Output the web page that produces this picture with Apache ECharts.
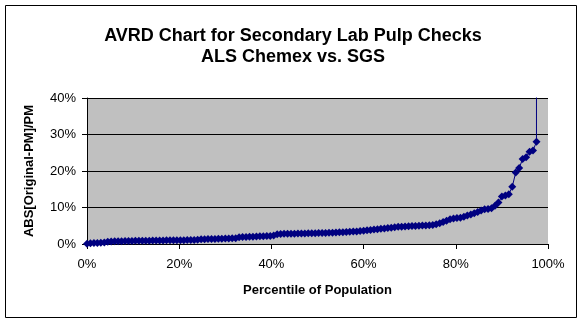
<!DOCTYPE html>
<html>
<head>
<meta charset="utf-8">
<script src="https://cdn.jsdelivr.net/npm/echarts@6/dist/echarts.min.js"></script>
<style>
  html, body { margin: 0; padding: 0; background: #fff; }
  #chart { width: 586px; height: 324px; }
</style>
</head>
<body>
<div id="chart"></div>
<script>
// Ranked pulp-check pairs: percentile of population (%) and ABS[Original-PM]/PM (%)
const percentile = [
  0, 0.75, 1.5, 2.25, 3, 3.75, 4.5, 5.25, 6, 6.75,
  7.5, 8.25, 9, 9.75, 10.5, 11.25, 12, 12.75, 13.5, 14.25,
  15, 15.75, 16.5, 17.25, 18, 18.75, 19.5, 20.25, 21, 21.75,
  22.5, 23.25, 24, 24.75, 25.5, 26.25, 27, 27.75, 28.5, 29.25,
  30, 30.75, 31.5, 32.25, 33, 33.75, 34.5, 35.25, 36, 36.75,
  37.5, 38.25, 39, 39.75, 40.5, 41.25, 42, 42.75, 43.5, 44.25,
  45, 45.75, 46.5, 47.25, 48, 48.75, 49.5, 50.25, 51, 51.75,
  52.5, 53.25, 54, 54.75, 55.5, 56.25, 57, 57.75, 58.5, 59.25,
  60, 60.75, 61.5, 62.25, 63, 63.75, 64.5, 65.25, 66, 66.75,
  67.5, 68.25, 69, 69.75, 70.5, 71.25, 72, 72.75, 73.5, 74.25,
  75, 75.75, 76.5, 77.25, 78, 78.75, 79.5, 80.25, 81, 81.75,
  82.5, 83.25, 84, 84.75, 85.5, 86.25, 87, 87.75, 88.5, 89.25,
  90, 90.75, 91.5, 92.25, 93, 93.75, 94.5, 95.25, 96, 96.75,
  97.5
];
const absRelDiff = [
  0.1, 0.2, 0.25, 0.3, 0.35, 0.4, 0.65, 0.7, 0.72, 0.75,
  0.78, 0.8, 0.82, 0.84, 0.86, 0.88, 0.9, 0.91, 0.92, 0.93,
  0.95, 0.96, 0.98, 1.0, 1.0, 1.02, 1.03, 1.05, 1.06, 1.08,
  1.1, 1.12, 1.15, 1.3, 1.32, 1.35, 1.37, 1.4, 1.42, 1.45,
  1.48, 1.52, 1.56, 1.6, 1.85, 1.9, 1.94, 1.98, 2.02, 2.06,
  2.1, 2.14, 2.18, 2.22, 2.3, 2.7, 2.75, 2.78, 2.8, 2.82,
  2.84, 2.86, 2.88, 2.9, 2.92, 2.94, 2.96, 2.98, 3.0, 3.02,
  3.05, 3.1, 3.15, 3.2, 3.25, 3.3, 3.35, 3.4, 3.45, 3.55,
  3.65, 3.75, 3.85, 3.95, 4.05, 4.15, 4.25, 4.35, 4.45, 4.6,
  4.7, 4.75, 4.8, 4.85, 4.9, 4.95, 5.0, 5.05, 5.1, 5.15,
  5.2, 5.4, 5.7, 6.0, 6.4, 6.8, 7.0, 7.1, 7.2, 7.5,
  7.8, 8.1, 8.4, 8.8, 9.2, 9.5, 9.6, 9.8, 10.5, 11.4,
  13.0, 13.3, 13.6, 15.7, 19.6, 20.8, 23.3, 23.8, 25.3, 25.6,
  28.0
];
// Highest pair runs off the top of the 40% scale
const offScalePoint = [97.5, 55];

const xTicks = [0, 20, 40, 60, 80, 100];
const yTicks = [0, 10, 20, 30, 40];

const titleLines = ['AVRD Chart for Secondary Lab Pulp Checks', 'ALS Chemex vs. SGS'];
const xTitle = 'Percentile of Population';
const yTitle = 'ABS[Original-PM]/PM';

const FONT = "'Liberation Sans', Arial, sans-serif";

const points = percentile.map((p, i) => [p, absRelDiff[i]]);
points.push({ value: offScalePoint, symbol: 'none' });

const chart = echarts.init(document.getElementById('chart'), null, { renderer: 'canvas' });
chart.setOption({
  animation: false,
  backgroundColor: '#ffffff',
  textStyle: { fontFamily: FONT },
  title: {
    text: titleLines.join('\n'),
    left: 'center',
    top: 21,
    textStyle: { fontFamily: FONT, fontSize: 18, fontWeight: 'bold', color: '#000', lineHeight: 21 }
  },
  graphic: [{
    type: 'rect',
    shape: { x: 5.5, y: 5.5, width: 571, height: 312 },
    style: { fill: 'none', stroke: '#000', lineWidth: 1 },
    silent: true
  }],
  grid: {
    left: 87, top: 98, width: 461, height: 146,
    show: true, backgroundColor: '#C0C0C0', borderWidth: 0
  },
  xAxis: {
    type: 'value',
    min: xTicks[0], max: xTicks[xTicks.length - 1], interval: 20,
    name: xTitle,
    nameLocation: 'middle',
    nameGap: 40,
    nameTextStyle: { fontFamily: FONT, fontSize: 13, fontWeight: 'bold', color: '#000' },
    axisLine: { show: true, onZero: false, lineStyle: { color: '#000', width: 1 } },
    axisTick: { show: true, inside: false, length: 5, lineStyle: { color: '#000' } },
    axisLabel: { formatter: '{value}%', margin: 14, fontFamily: FONT, fontSize: 13, color: '#000' },
    splitLine: { show: false }
  },
  yAxis: {
    type: 'value',
    min: yTicks[0], max: yTicks[yTicks.length - 1], interval: 10,
    name: yTitle,
    nameLocation: 'middle',
    nameGap: 51,
    nameTextStyle: { fontFamily: FONT, fontSize: 13, fontWeight: 'bold', color: '#000' },
    axisLine: { show: true, lineStyle: { color: '#000', width: 1 } },
    axisTick: { show: true, inside: false, length: 5, lineStyle: { color: '#000' } },
    axisLabel: { formatter: '{value}%', margin: 11, fontFamily: FONT, fontSize: 13, color: '#000' },
    splitLine: { show: true, lineStyle: { color: '#000', width: 1 } }
  },
  series: [{
    type: 'line',
    data: points,
    clip: true,
    symbol: 'diamond',
    symbolSize: 8,
    showAllSymbol: true,
    itemStyle: { color: '#000080' },
    lineStyle: { color: '#000080', width: 1 },
    emphasis: { disabled: true }
  }]
});
</script>
</body>
</html>
